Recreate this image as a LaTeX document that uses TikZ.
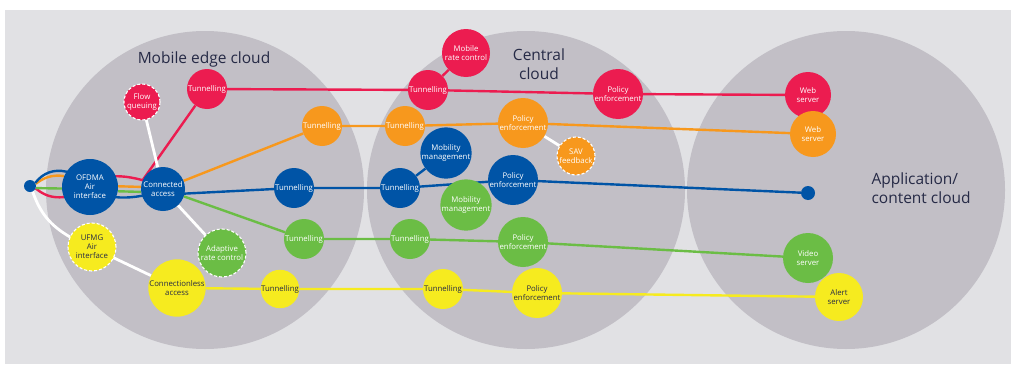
\documentclass[tikz,border=0pt]{standalone}
\usepackage{fontspec}
\setmainfont{Open Sans}
\definecolor{bgrey}{HTML}{E1E1E4}
\definecolor{cgrey}{HTML}{C2BFC6}
\definecolor{mred}{HTML}{EC1C50}
\definecolor{morange}{HTML}{F7981D}
\definecolor{mblue}{HTML}{0054A6}
\definecolor{mgreen}{HTML}{6BBD45}
\definecolor{myellow}{HTML}{F6EB1F}
\definecolor{navy}{HTML}{262A46}
\pgfdeclarelayer{clouds}
\pgfdeclarelayer{links}
\pgfsetlayers{clouds,links,main}

\begin{document}
\begin{tikzpicture}[x=1pt,y=1pt,
  fn/.style={circle,inner sep=0pt,align=center,text=white,font=\fontsize{7.8}{9.2}\selectfont},
  rnode/.style={fn,fill=mred},
  onode/.style={fn,fill=morange},
  bnode/.style={fn,fill=mblue},
  gnode/.style={fn,fill=mgreen},
  ynode/.style={fn,fill=myellow,text=navy},
  opt/.style={draw=white,line width=1.1pt,dash pattern=on 3pt off 2pt},
  lk/.style={line width=2.4pt},
  wl/.style={line width=2.8pt,white},
  cloudlabel/.style={font=\fontsize{15.5}{19.5}\selectfont,text=navy}]

\useasboundingbox (0,0) rectangle (1011,-364);

\begin{pgfonlayer}{clouds}
\fill[bgrey] (5,-10) rectangle (1011,-364);
\foreach \cx in {205,526,846}
  \fill[cgrey] (\cx,-190) circle (159pt);
\end{pgfonlayer}

\node[cloudlabel] (edge) at (204,-59) {Mobile edge cloud};
\node[cloudlabel,align=center] (central) at (539,-64) {Central\\cloud};
\node[cloudlabel,align=left,anchor=west] (app) at (868,-188) {Application/\\content cloud};

% access side
\node[bnode,minimum size=12pt] (src) at (30,-186) {};
\node[bnode,minimum size=56pt] (ofdma) at (90,-187) {OFDMA\\Air\\interface};
\node[bnode,minimum size=44pt] (conn) at (163,-189) {Connected\\access};
\node[ynode,opt,minimum size=48pt] (ufmg) at (92,-247) {UFMG\\Air\\interface};
\node[ynode,minimum size=56pt] (cless) at (177,-288) {Connectionless\\access};
\node[gnode,opt,minimum size=48pt] (arc) at (222,-253) {Adaptive\\rate control};
\node[rnode,opt,minimum size=36pt] (flowq) at (142,-102) {Flow\\queuing};

% mobile edge cloud
\node[rnode,minimum size=40pt] (tr1) at (207,-89) {Tunnelling};
\node[onode,minimum size=40pt] (to1) at (322,-126) {Tunnelling};
\node[bnode,minimum size=40pt] (tb1) at (294,-188) {Tunnelling};
\node[gnode,minimum size=40pt] (tg1) at (304,-239) {Tunnelling};
\node[ynode,minimum size=38pt] (ty1) at (280,-289) {Tunnelling};

% central cloud
\node[rnode,minimum size=48pt] (mrc) at (466,-53) {Mobile\\rate control};
\node[rnode,minimum size=40pt] (tr2) at (428,-90) {Tunnelling};
\node[rnode,minimum size=50pt] (per) at (618,-94) {Policy\\enforcement};
\node[onode,minimum size=40pt] (to2) at (405,-126) {Tunnelling};
\node[onode,minimum size=50pt] (peo) at (523,-123) {Policy\\enforcement};
\node[onode,opt,minimum size=38pt] (sav) at (576,-156) {SAV\\feedback};
\node[bnode,minimum size=50pt] (mmb) at (446,-153) {Mobility\\management};
\node[bnode,minimum size=40pt] (tb2) at (400,-188) {Tunnelling};
\node[gnode,minimum size=50pt] (mmg) at (466,-205) {Mobility\\management};
\node[bnode,minimum size=50pt] (peb) at (513,-180) {Policy\\enforcement};
\node[gnode,minimum size=40pt] (tg2) at (410,-239) {Tunnelling};
\node[gnode,minimum size=50pt] (peg) at (523,-242) {Policy\\enforcement};
\node[ynode,minimum size=40pt] (ty2) at (443,-289) {Tunnelling};
\node[ynode,minimum size=50pt] (pey) at (537,-293) {Policy\\enforcement};

% application/content cloud
\node[rnode,minimum size=46pt] (webr) at (808,-95) {Web\\server};
\node[onode,minimum size=46pt] (webo) at (813,-134) {Web\\server};
\node[bnode,minimum size=14pt] (endpt) at (808,-193) {};
\node[gnode,minimum size=50pt] (video) at (808,-258) {Video\\server};
\node[ynode,minimum size=48pt] (alert) at (839,-297) {Alert\\server};

\begin{pgfonlayer}{links}
\draw[lk,mred] (src) to[bend right=22] (ofdma) to[bend left=28] (conn) -- (tr1) -- (tr2) -- (per) -- (webr);
\draw[lk,mred] (mrc) -- (tr2);

\draw[lk,morange] (src) to[bend left=22] (ofdma);
\draw[lk,morange,transform canvas={yshift=1.5pt}] (ofdma) -- (conn);
\draw[lk,morange] (conn) -- (to1) -- (to2) -- (peo) -- (webo);

\draw[lk,mblue] (src) to[bend left=32] (ofdma) to[bend right=28] (conn) -- (tb1) -- (tb2) -- (peb) -- (endpt);
\draw[lk,mblue] (mmb) -- (tb2);

\draw[lk,mgreen,transform canvas={yshift=-2pt}] (src) -- (ofdma);
\draw[lk,mgreen,transform canvas={yshift=-3.5pt}] (ofdma) -- (conn);
\draw[lk,mgreen] (conn) -- (tg1) -- (tg2) -- (peg) -- (video);

\draw[lk,myellow] (cless) -- (ty1) -- (ty2) -- (pey) -- (alert);

\draw[wl] (src) to[bend right=20] (ufmg) -- (cless);
\draw[wl] (flowq) -- (conn) -- (arc);
\draw[wl] (peo) -- (sav);
\end{pgfonlayer}
\end{tikzpicture}
\end{document}
